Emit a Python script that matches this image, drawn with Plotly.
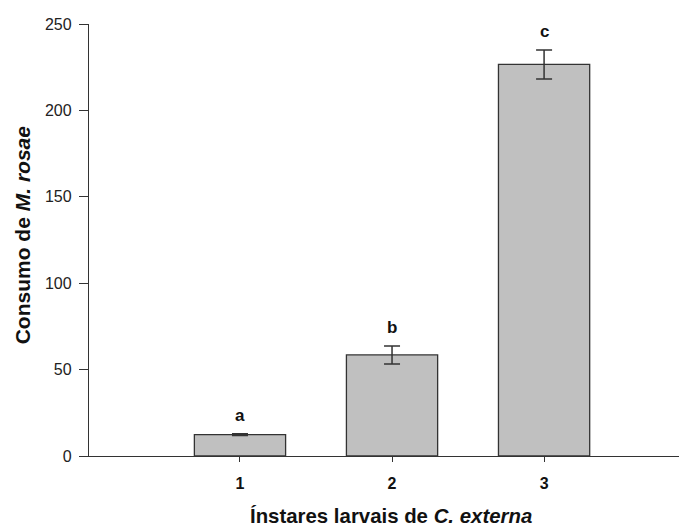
import plotly.graph_objects as go

instars = [1, 2, 3]
consumo = [12.4, 58.5, 226.6]
erro = [0.5, 5.2, 8.4]
letras = ["a", "b", "c"]
y_ticks = [0, 50, 100, 150, 200, 250]

W, H = 687, 527
OFF = 8  # page body margin
L, R, T, B = 89 - OFF, OFF, 19.5 - OFF, 71 + OFF

fig = go.Figure()
fig.add_trace(go.Bar(
    x=instars, y=consumo, width=0.6,
    marker=dict(color="#c0c0c0", line=dict(color="#333333", width=1.3)),
    error_y=dict(type="data", array=erro, visible=True, color="#333333",
                 thickness=1.5, width=8),
    showlegend=False,
))

for xi, yi, ei, t in zip(instars, consumo, erro, letras):
    fig.add_annotation(x=xi, y=yi + ei, text=f"<b>{t}</b>", showarrow=False,
                       yshift=18, font=dict(size=17, color="#111111",
                                            family="Liberation Sans, Arial"))

pw = W - L - R
ph = H - T - B
fig.add_annotation(xref="paper", yref="paper", x=(391 - OFF - L) / pw,
                   y=-(517 - OFF - (H - B)) / ph, yanchor="middle",
                   text="<b>Ínstares larvais de <i>C. externa</i></b>",
                   showarrow=False, font=dict(size=20.4, color="#111111"))
fig.add_annotation(xref="paper", yref="paper", x=-(L - (22 - OFF)) / pw,
                   xanchor="center", y=((H - B) - (233 - OFF)) / ph, yanchor="middle",
                   textangle=-90,
                   text="<b>Consumo de <i>M. rosae</i></b>",
                   showarrow=False, font=dict(size=21, color="#111111"))

fig.update_layout(
    width=W, height=H,
    margin=dict(l=L, r=R, t=T, b=B, pad=0),
    plot_bgcolor="white", paper_bgcolor="white",
    font=dict(family="Liberation Sans, Arial", color="#111111"),
    bargap=0.4,
)
fig.update_xaxes(
    range=[0.007, 3.94], tickvals=instars,
    ticktext=[f"<b>{i}</b>" for i in instars],
    showline=True, linecolor="#333333", linewidth=1.3,
    ticks="outside", ticklen=5, tickcolor="#333333", tickwidth=1.3,
    tickfont=dict(size=16, color="#111111"), ticklabelstandoff=8,
    showgrid=False, zeroline=False,
)
fig.update_yaxes(
    range=[0, 250], tickvals=y_ticks,
    showline=True, linecolor="#333333", linewidth=1.3,
    ticks="outside", ticklen=9, tickcolor="#333333", tickwidth=1.3,
    tickfont=dict(size=16, color="#222222"), ticklabelstandoff=4,
    showgrid=False, zeroline=False,
)

fig.write_html("out.html")
